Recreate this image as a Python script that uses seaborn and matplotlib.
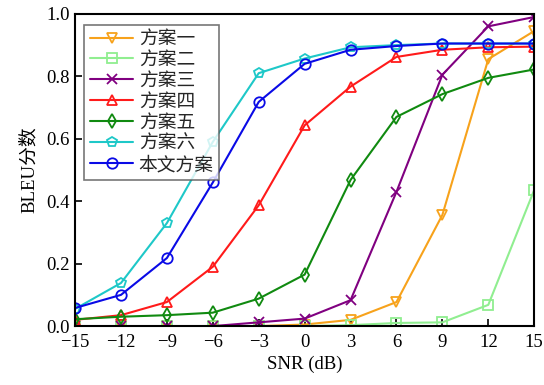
import numpy as np
import pandas as pd
import seaborn as sns
import matplotlib
matplotlib.use("Agg")
import matplotlib.pyplot as plt

snr = [-15, -12, -9, -6, -3, 0, 3, 6, 9, 12, 15]
names = ["方案一", "方案二", "方案三", "方案四", "方案五", "方案六", "本文方案"]
s1 = [0.0, 0.0, 0.0, 0.0, 0.0, 0.005, 0.02, 0.077, 0.356, 0.855, 0.945]
s2 = [0.0, 0.0, 0.0, 0.0, 0.0, 0.0, 0.003, 0.01, 0.012, 0.068, 0.436]
s3 = [0.0, 0.0, 0.0, 0.0, 0.012, 0.024, 0.083, 0.43, 0.805, 0.96, 0.99]
s4 = [0.02, 0.035, 0.077, 0.19, 0.387, 0.643, 0.767, 0.862, 0.885, 0.893, 0.895]
s5 = [0.022, 0.03, 0.035, 0.043, 0.088, 0.165, 0.468, 0.67, 0.743, 0.795, 0.822]
s6 = [0.055, 0.138, 0.33, 0.59, 0.81, 0.857, 0.893, 0.9, 0.905, 0.905, 0.905]
s7 = [0.058, 0.10, 0.218, 0.46, 0.718, 0.84, 0.885, 0.897, 0.905, 0.905, 0.905]
series = [s1, s2, s3, s4, s5, s6, s7]
xticks = [-15, -12, -9, -6, -3, 0, 3, 6, 9, 12, 15]
yticks = [0.0, 0.2, 0.4, 0.6, 0.8, 1.0]

colors = ["#f7a21b", "#90ee90", "#800080", "#ff1a1a", "#108a10", "#1ec8c8", "#0a0ae6"]
markers = ["v", "s", "x", "^", "d", "p", "o"]

sns.set_theme(style="white")
plt.rcParams["font.family"] = ["Liberation Serif", "Noto Sans CJK SC"]
plt.rcParams["axes.unicode_minus"] = True

fig = plt.figure(figsize=(5.44, 3.85), dpi=100)
ax = fig.add_axes([0.138, 0.153, 0.844, 0.811])

for name, vals, c, m in zip(names, series, colors, markers):
    df = pd.DataFrame({"SNR": snr, "BLEU": vals})
    sns.lineplot(data=df, x="SNR", y="BLEU", ax=ax, color=c, marker=m,
                 markersize=7.5, markerfacecolor="none", markeredgecolor=c,
                 markeredgewidth=1.3, linewidth=1.5, label=name)

ax.set_xlim(-15, 15)
ax.set_ylim(0, 1.0)
ax.set_xticks(xticks)
ax.set_yticks(yticks)
ax.set_yticklabels([f"{v:.1f}" for v in yticks])
ax.tick_params(direction="in", length=5, width=1.2, labelsize=13.5, colors="black",
               bottom=True, left=True, top=False, right=False)
ax.tick_params(axis="x", pad=6)
ax.tick_params(axis="y", pad=4)
for sp in ax.spines.values():
    sp.set_color("black")
    sp.set_linewidth(1.5)
ax.set_xlabel("SNR (dB)", fontsize=13.5, color="black", labelpad=3)
ax.set_ylabel("BLEU分数", fontsize=13.5, color="black", labelpad=6)

leg = ax.legend(loc="upper left", bbox_to_anchor=(0.012, 0.975), fontsize=13.5,
                frameon=True, fancybox=False, handlelength=2.3, handletextpad=0.3,
                labelspacing=0.2, borderpad=0.3, borderaxespad=0.2)
leg.get_frame().set_edgecolor("#555555")
leg.get_frame().set_linewidth(1.2)

fig.savefig("out.png", dpi=100)
